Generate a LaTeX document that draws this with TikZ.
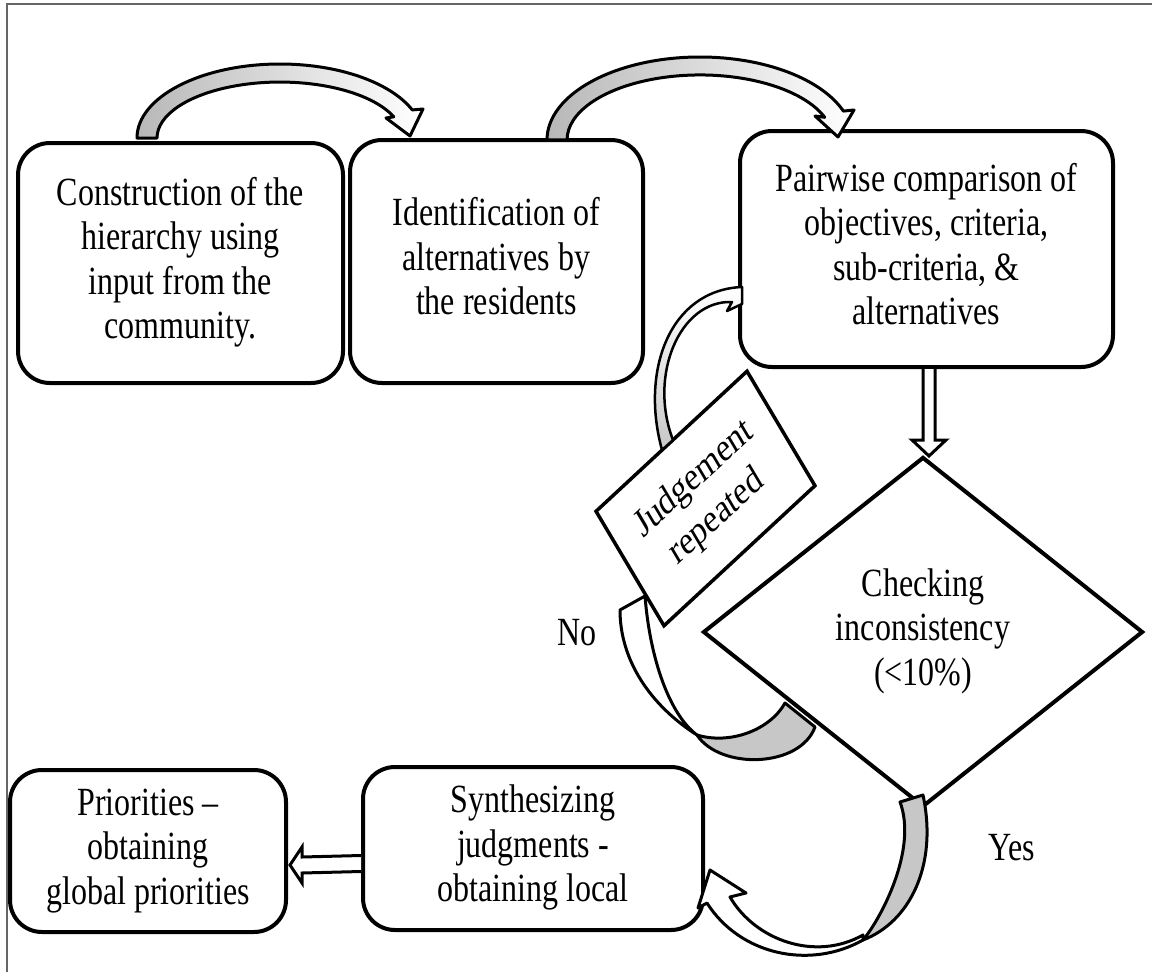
\documentclass[tikz,border=0pt]{standalone}
\usepackage{fontspec}
\setmainfont{Liberation Serif}
\usepackage{graphicx}
\usetikzlibrary{shapes.geometric,calc}

% text block, stretched vertically like the rest of the chart
\newcommand{\tall}[1]{\scalebox{1}[1.25]{\begin{tabular}{@{}c@{}}#1\end{tabular}}}

\begin{document}
\begin{tikzpicture}[x=1pt,y=-1pt,
  every node/.style={font=\fontsize{32}{35.6}\selectfont, inner sep=0pt},
  stage/.style={draw=black, line width=4pt, rounded corners=32pt, fill=white, align=center},
  ribbon/.style={draw=black, line width=3pt, line join=round},
  underside/.style={fill=black!22},
  block/.style={draw=black, line width=3pt, fill=white, line join=miter}
]
\useasboundingbox (0,0) rectangle (1152,972);
\draw[black!60, line width=2pt] (7,972) -- (7,4) -- (1152,4);

% process steps
\node[stage, minimum width=325pt, minimum height=240pt] (build) at (180.5,263)
  {\tall{Construction of the\\hierarchy using\\input from the\\community.}};
\node[stage, minimum width=293pt, minimum height=243pt] (identify) at (496.5,261.5)
  {\tall{Identification of\\alternatives by\\the residents}};
\node[stage, minimum width=373pt, minimum height=236pt] (pairwise) at (926.5,249)
  {\tall{Pairwise comparison of\\objectives, criteria,\\sub-criteria, \&\\alternatives}};
\node[draw=black, line width=4pt, diamond, fill=white, minimum width=440pt, minimum height=350pt, align=center] (check) at (923,632)
  {\tall{Checking\\inconsistency\\(<10\%)}};
\node[stage, minimum width=340pt, minimum height=163pt] (synth) at (533,848.5)
  {\tall{Synthesizing\\judgments -\\obtaining local}};
\node[stage, minimum width=276pt, minimum height=162pt] (global) at (148,851)
  {\tall{Priorities –\\obtaining\\global priorities}};
% tilted box: rotated, then stretched with the chart
\node[draw=black, line width=3.5pt, fill=white, minimum width=188pt, minimum height=114pt, align=center,
      font=\fontsize{32}{38}\selectfont,
      cm={0.803,0.745,-0.596,1.004,(0,0)}] (judge) at (705.5,498.5) {Judgement\\repeated};

\node (no) at (577,637) {\tall{No}};
\node (yes) at (1012,852) {\tall{Yes}};

% curved arrows over the top
\path[ribbon, left color=black!28, middle color=white, right color=white]
  (137,138) arc[start angle=180, end angle=337.7, x radius=143, y radius=74]
  -- (423,109) -- (410,136) -- (386,118) -- (393.8,116.8)
  arc[start angle=337.7, end angle=180, x radius=123, y radius=56] -- cycle;
\path[ribbon, left color=black!28, middle color=white, right color=white]
  (547,140) arc[start angle=180, end angle=339.6, x radius=153, y radius=83]
  -- (854,110) -- (838,137) -- (815,116) -- (824.7,117.3)
  arc[start angle=339.6, end angle=180, x radius=133, y radius=65] -- cycle;

% straight block arrows
\coordinate (vs) at ($(pairwise.south)+(2.5,0)$);
\coordinate (vt) at (929,456);
\draw[block] ($(vs)+(-6,0)$) -- ($(vt)+(-6,-16)$) -- ($(vt)+(-17,-16)$) -- (vt)
  -- ($(vt)+(17,-16)$) -- ($(vt)+(6,-16)$) -- ($(vs)+(6,0)$);
\coordinate (hs) at ($(synth.west)+(0,15)$);
\coordinate (ht) at ($(global.east)+(2,14)$);
\draw[block] ($(hs)+(0,-8)$) -- ($(ht)+(12,-8)$) -- ($(ht)+(12,-18)$) -- (ht)
  -- ($(ht)+(12,18)$) -- ($(ht)+(12,8)$) -- ($(hs)+(0,8)$);

% "No" loop: diamond -> judgement box
\path[ribbon, underside] (785,703) -- (815,727)
  .. controls (800,768) and (720,770) .. (697,735)
  .. controls (730,745) and (770,730) .. (785,703) -- cycle;
\path[ribbon, fill=white] (697,735)
  .. controls (650,705) and (620,660) .. (620,610) -- (645,596)
  .. controls (650,660) and (670,715) .. (697,735) -- cycle;

% judgement box -> pairwise comparison
\path[ribbon, line width=2.5pt, top color=white, bottom color=black!22]
  (662,450) .. controls (640,370) and (670,290) .. (742,287)
  -- (742,304) -- (727,311) -- (732,302)
  .. controls (680,300) and (648,375) .. (673,440) -- cycle;

% "Yes" arrow: diamond -> synthesizing
\path[ribbon, underside] (900,802) -- (923,795)
  .. controls (938,865) and (910,922) .. (863,940)
  .. controls (880,920) and (918,850) .. (900,802) -- cycle;
\path[ribbon, fill=white] (863,940)
  .. controls (810,970) and (740,955) .. (707,903)
  -- (698,908) -- (710,870) -- (746,893) -- (730,897)
  .. controls (755,940) and (815,962) .. (863,935) -- cycle;
\end{tikzpicture}
\end{document}
